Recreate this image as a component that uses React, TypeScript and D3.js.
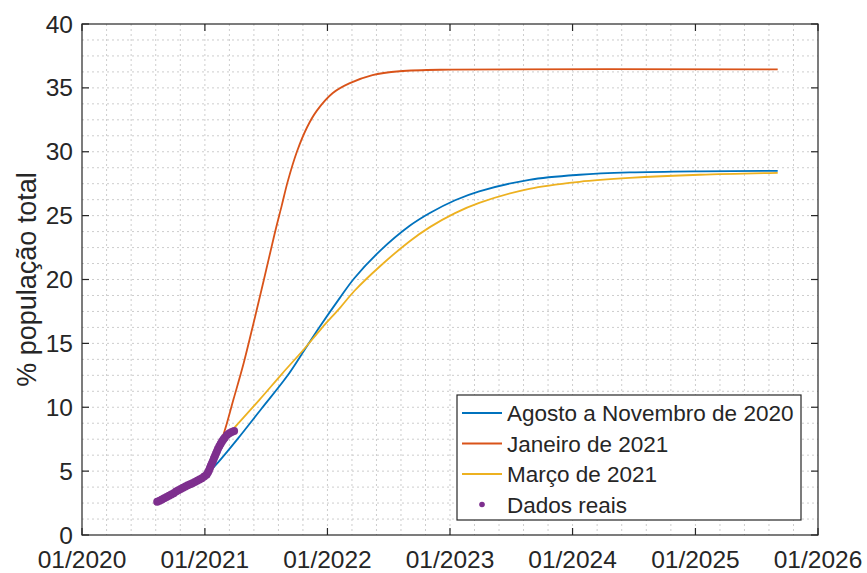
import React from 'react';
import * as d3 from 'd3';

// model curves
const blueDates = ['2021-01-16', '2021-02-10', '2021-04-08', '2021-06-19', '2021-09-02', '2021-10-25', '2021-12-09', '2022-02-08', '2022-03-22', '2022-06-05', '2022-09-03', '2022-11-02', '2023-01-16', '2023-03-29', '2023-08-25', '2024-01-22', '2024-06-19', '2025-01-14', '2025-09-03'];
const blueValues = [5.0, 5.7, 7.5, 9.9, 12.4, 14.5, 16.3, 18.6, 20.1, 22.2, 24.2, 25.2, 26.2, 26.9, 27.8, 28.2, 28.38, 28.47, 28.5];

const orangeDates = ['2021-02-01', '2021-02-27', '2021-03-27', '2021-04-26', '2021-05-26', '2021-06-25', '2021-07-27', '2021-08-18', '2021-09-05', '2021-10-02', '2021-11-01', '2021-11-30', '2022-01-17', '2022-03-07', '2022-05-15', '2022-08-04', '2023-01-01', '2025-09-03'];
const orangeValues = [6.2, 8.0, 10.6, 13.4, 16.6, 19.9, 23.5, 25.8, 27.7, 30.0, 31.9, 33.2, 34.6, 35.35, 36.0, 36.3, 36.43, 36.45];

const yellowDates = ['2021-03-30', '2021-06-13', '2021-08-18', '2021-10-25', '2021-12-15', '2022-02-08', '2022-03-22', '2022-06-05', '2022-09-03', '2022-11-02', '2023-01-16', '2023-03-29', '2023-08-25', '2024-01-22', '2024-06-19', '2025-01-14', '2025-09-03'];
const yellowValues = [8.4, 10.6, 12.6, 14.6, 16.2, 17.8, 19.1, 21.0, 23.0, 24.1, 25.2, 26.0, 27.1, 27.65, 27.95, 28.2, 28.35];

// observed data
const realDates = ['2020-08-12', '2020-08-19', '2020-08-26', '2020-09-02', '2020-09-09', '2020-09-16', '2020-09-23', '2020-09-30', '2020-10-07', '2020-10-14', '2020-10-21', '2020-10-28', '2020-11-04', '2020-11-11', '2020-11-18', '2020-11-25', '2020-12-02', '2020-12-09', '2020-12-16', '2020-12-23', '2020-12-30', '2021-01-06', '2021-01-10', '2021-01-13', '2021-01-16', '2021-01-19', '2021-01-22', '2021-01-25', '2021-01-28', '2021-01-31', '2021-02-03', '2021-02-06', '2021-02-09', '2021-02-13', '2021-02-17', '2021-02-21', '2021-02-25', '2021-03-01', '2021-03-08', '2021-03-15', '2021-03-22', '2021-03-29'];
const realValues = [2.6, 2.68, 2.77, 2.87, 2.97, 3.07, 3.17, 3.27, 3.4, 3.5, 3.6, 3.7, 3.8, 3.9, 3.98, 4.06, 4.15, 4.25, 4.35, 4.45, 4.58, 4.72, 4.9, 5.05, 5.25, 5.45, 5.62, 5.8, 6.0, 6.18, 6.38, 6.55, 6.75, 6.95, 7.15, 7.32, 7.48, 7.62, 7.82, 7.96, 8.07, 8.15];

const xTickLabels = ['01/2020', '01/2021', '01/2022', '01/2023', '01/2024', '01/2025', '01/2026'];
const yTicks = [0, 5, 10, 15, 20, 25, 30, 35, 40];
const legendLabels = ['Agosto a Novembro de 2020', 'Janeiro de 2021', 'Março de 2021', 'Dados reais'];

const W = 867;
const H = 573;
const m = { left: 82, top: 24, right: 818, bottom: 535 };
const font = '"Liberation Sans", Arial, Helvetica, sans-serif';
const ink = '#262626';

const parse = d3.timeParse('%Y-%m-%d');
const toDate = (s: string) => parse(s) as Date;
const toMonthYear = (s: string) => d3.timeParse('%m/%Y')(s) as Date;

const x = d3.scaleTime().domain([new Date(2020, 0, 1), new Date(2026, 0, 1)]).range([m.left, m.right]);
const y = d3.scaleLinear().domain([0, 40]).range([m.bottom, m.top]);

const line = d3
  .line<[Date, number]>()
  .x((d) => x(d[0]))
  .y((d) => y(d[1]))
  .curve(d3.curveCatmullRom.alpha(0.5));

const zip = (ds: string[], vs: number[]) => ds.map((d, i) => [toDate(d), vs[i]] as [Date, number]);

const series = [
  { color: '#0072BD', pts: zip(blueDates, blueValues) },
  { color: '#D95319', pts: zip(orangeDates, orangeValues) },
  { color: '#EDB120', pts: zip(yellowDates, yellowValues) },
];
const purple = '#7E2F8E';

export default function App() {
  // minor grid: 5 per year, 4 per 5 units
  const xGrid: Date[] = [];
  for (let yr = 2020; yr < 2026; yr++) {
    for (let k = 0; k < 5; k++) {
      const t0 = new Date(yr, 0, 1).getTime();
      const t1 = new Date(yr + 1, 0, 1).getTime();
      xGrid.push(new Date(t0 + ((t1 - t0) * k) / 5));
    }
  }
  const yGrid = d3.range(0, 40, 1.25);

  const real = zip(realDates, realValues);
  const tickLen = 7;
  const lg = { x: 457, y: 395, w: 344, h: 125, row: 30.5 };

  return (
    <svg width={W} height={H} style={{ position: 'absolute', left: 0, top: 0, background: '#fff' }}>
      <rect x={0} y={0} width={W} height={H} fill="#fff" />
      <g stroke="#cdcdcd" strokeWidth={1} strokeDasharray="2 3">
        {xGrid.slice(1).map((d, i) => (
          <line key={'gx' + i} x1={x(d)} x2={x(d)} y1={m.top} y2={m.bottom} />
        ))}
        {yGrid.slice(1).map((v, i) => (
          <line key={'gy' + i} x1={m.left} x2={m.right} y1={y(v)} y2={y(v)} />
        ))}
      </g>

      {series.map((s, i) => (
        <path key={i} d={line(s.pts) || ''} fill="none" stroke={s.color} strokeWidth={1.8} />
      ))}
      <g fill={purple}>
        {real.map((d, i) => (
          <circle key={i} cx={x(d[0])} cy={y(d[1])} r={4} />
        ))}
      </g>

      {/* box and ticks */}
      <rect x={m.left} y={m.top} width={m.right - m.left} height={m.bottom - m.top} fill="none" stroke={ink} strokeWidth={1.2} />
      <g stroke={ink} strokeWidth={1.2}>
        {xTickLabels.map((t, i) => {
          const px = x(toMonthYear(t));
          return (
            <g key={'xt' + i}>
              <line x1={px} x2={px} y1={m.bottom} y2={m.bottom - tickLen} />
              <line x1={px} x2={px} y1={m.top} y2={m.top + tickLen} />
            </g>
          );
        })}
        {yTicks.map((v, i) => (
          <g key={'yt' + i}>
            <line x1={m.left} x2={m.left + tickLen} y1={y(v)} y2={y(v)} />
            <line x1={m.right} x2={m.right - tickLen} y1={y(v)} y2={y(v)} />
          </g>
        ))}
      </g>
      <g fill={ink} fontFamily={font} fontSize={24.5}>
        {xTickLabels.map((t, i) => (
          <text key={'xl' + i} x={x(toMonthYear(t))} y={568} textAnchor="middle">
            {t}
          </text>
        ))}
        {yTicks.map((v, i) => (
          <text key={'yl' + i} x={73} y={y(v) + 8.5} textAnchor="end">
            {v}
          </text>
        ))}
      </g>
      <text
        transform={`translate(35.5, ${(m.top + m.bottom) / 2}) rotate(-90)`}
        textAnchor="middle"
        fontFamily={font}
        fontSize={27}
        fill={ink}
      >
        % população total
      </text>

      {/* legend */}
      <rect x={lg.x} y={lg.y} width={lg.w} height={lg.h} fill="#fff" stroke={ink} strokeWidth={1.2} />
      {legendLabels.map((lab, i) => {
        const cy = 413 + i * lg.row;
        return (
          <g key={'lg' + i}>
            {i < 3 ? (
              <line x1={462} x2={502} y1={cy} y2={cy} stroke={series[i].color} strokeWidth={1.8} />
            ) : (
              <circle cx={482} cy={cy} r={2.8} fill={purple} />
            )}
            <text x={507} y={cy + 8} fontFamily={font} fontSize={22.5} fill={ink}>
              {lab}
            </text>
          </g>
        );
      })}
    </svg>
  );
}
